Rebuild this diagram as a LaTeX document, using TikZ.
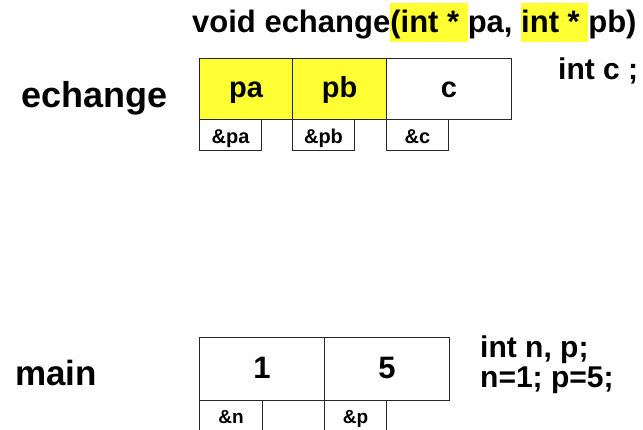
\documentclass[tikz,border=0pt]{standalone}
\usepackage{fontspec}
\setmainfont{Liberation Sans}
\definecolor{hly}{RGB}{255,255,51}
\newcommand{\hlbox}[1]{{\setlength{\fboxsep}{0pt}\colorbox{hly}{\rule[-9pt]{0pt}{39pt}#1}}}
\newcommand{\fsz}[1]{\bfseries\fontsize{#1}{#1}\selectfont}
\tikzset{
  cell/.style={draw=black!85, line width=1pt, inner sep=0pt, anchor=north west, fill=white},
  bigcell/.style={cell, font=\fsz{29pt}, text height=20pt, text depth=3pt},
  smallcell/.style={cell, font=\fsz{20pt}, text height=17pt, text depth=0pt},
  mainbig/.style={cell, font=\fsz{31pt}, text height=20pt, text depth=1pt},
  mainsmall/.style={cell, font=\fsz{19pt}, text height=13pt, text depth=0pt},
  txt/.style={inner sep=0pt, anchor=base west},
}
\begin{document}
\begin{tikzpicture}[x=1pt,y=-1pt]
\useasboundingbox (0,0) rectangle (643,430);
% echange frame
\node[txt, font=\fsz{31pt}] (title) at (192,33) {void echange\hlbox{(int *\ }pa, \hlbox{int *\ }pb)};
\node[txt, font=\fsz{30pt}] (intc) at (558,80) {int c ;};
\node[txt, font=\fsz{36pt}] (lbech) at (21,108) {echange};
\node[bigcell, fill=hly, minimum width=93pt, minimum height=61pt] (pa) at (199,58) {pa};
\node[bigcell, fill=hly, minimum width=94pt, minimum height=61pt] (pb) at (292,58) {pb};
\node[bigcell, minimum width=125pt, minimum height=61pt] (c) at (386,58) {c};
\node[smallcell, minimum width=62pt, minimum height=31pt] (apa) at (199,119) {\&pa};
\node[smallcell, minimum width=62pt, minimum height=31pt] (apb) at (292,119) {\&pb};
\node[smallcell, minimum width=62pt, minimum height=31pt] (ac) at (386,119) {\&c};
% main frame
\node[txt, font=\fsz{35pt}] (lbmain) at (15,385) {main};
\node[txt, font=\fsz{30pt}] (decl1) at (480,358) {int n, p;};
\node[txt, font=\fsz{30pt}] (decl2) at (480,388) {n=1; p=5;};
\node[mainbig, minimum width=125pt, minimum height=63pt] (n) at (199,337) {1};
\node[mainbig, minimum width=125pt, minimum height=63pt] (p) at (324,337) {5};
\node[mainsmall, minimum width=63pt, minimum height=34pt] (an) at (199,400) {\&n};
\node[mainsmall, minimum width=62pt, minimum height=34pt] (ap) at (324,400) {\&p};
\end{tikzpicture}
\end{document}
